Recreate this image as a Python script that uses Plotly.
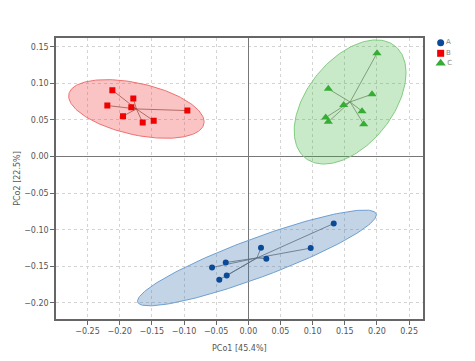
import numpy as np
import plotly.graph_objects as go

groups = ["A", "B", "C"]
pc1_A = [-0.0564, -0.0351, -0.0451, -0.0336, 0.0197, 0.0280, 0.0970, 0.1328]
pc2_A = [-0.1516, -0.1448, -0.1684, -0.1626, -0.1247, -0.1398, -0.1251, -0.0915]
pc1_B = [-0.2114, -0.1788, -0.2192, -0.1819, -0.1948, -0.1642, -0.1471, -0.0948]
pc2_B = [0.0907, 0.0792, 0.0697, 0.0675, 0.0552, 0.0464, 0.0488, 0.0628]
pc1_C = [0.2001, 0.1244, 0.1923, 0.1483, 0.1768, 0.1203, 0.1244, 0.1794]
pc2_C = [0.1413, 0.0925, 0.0852, 0.0706, 0.0620, 0.0533, 0.0474, 0.0443]
x_ticks = [-0.25, -0.20, -0.15, -0.10, -0.05, 0.00, 0.05, 0.10, 0.15, 0.20, 0.25]
y_ticks = [-0.20, -0.15, -0.10, -0.05, 0.00, 0.05, 0.10, 0.15]
x_title = "PCo1 [45.4%]"
y_title = "PCo2 [22.5%]"

data = {"A": (pc1_A, pc2_A), "B": (pc1_B, pc2_B), "C": (pc1_C, pc2_C)}
marker_col = {"A": "#0b4a98", "B": "#f00000", "C": "#35ad35"}
fill_col = {"A": "rgba(70,120,180,0.32)", "B": "rgba(240,60,60,0.30)", "C": "rgba(60,180,60,0.28)"}
edge_col = {"A": "#6d9fd0", "B": "#f07070", "C": "#80cc80"}
seg_col = {"A": "rgba(90,110,130,0.8)", "B": "rgba(150,70,60,0.7)", "C": "rgba(110,140,100,0.8)"}
symbols = {"A": "circle", "B": "square", "C": "triangle-up"}
sizes = {"A": 6, "B": 6, "C": 8}
K = 2.65

fig = go.Figure()

for g in groups:
    x, y = np.array(data[g][0]), np.array(data[g][1])
    cx, cy = x.mean(), y.mean()
    cov = np.cov(x, y)
    vals, vecs = np.linalg.eigh(cov)
    t = np.linspace(0, 2 * np.pi, 200)
    circ = np.vstack([np.cos(t), np.sin(t)])
    pts = vecs @ (np.sqrt(vals)[:, None] * circ) * K
    fig.add_trace(go.Scatter(x=cx + pts[0], y=cy + pts[1], mode="lines", fill="toself",
                             fillcolor=fill_col[g], line=dict(color=edge_col[g], width=1),
                             hoverinfo="skip", showlegend=False))

for g in groups:
    x, y = data[g]
    cx, cy = np.mean(x), np.mean(y)
    sx, sy = [], []
    for xi, yi in zip(x, y):
        sx += [cx, xi, None]
        sy += [cy, yi, None]
    fig.add_trace(go.Scatter(x=sx, y=sy, mode="lines", line=dict(color=seg_col[g], width=1),
                             hoverinfo="skip", showlegend=False))

for g in groups:
    x, y = data[g]
    fig.add_trace(go.Scatter(x=x, y=y, mode="markers", name=g,
                             marker=dict(symbol=symbols[g], size=sizes[g], color=marker_col[g]),
                             showlegend=False))

# legend drawn on a side axis
leg_y = [4.7, 15.3, 25.3]
for i, g in enumerate(groups):
    fig.add_trace(go.Scatter(x=[18], y=[leg_y[i]], mode="markers+text", text=[g],
                             textposition="middle right", textfont=dict(size=7, color="#888"),
                             marker=dict(symbol=symbols[g], size=sizes[g] + 1, color=marker_col[g]),
                             xaxis="x2", yaxis="y2", showlegend=False, cliponaxis=False, hoverinfo="skip"))

axis_common = dict(showline=True, linecolor="#666", linewidth=1.5, mirror=True,
                   ticks="outside", ticklen=4, tickcolor="#666",
                   showgrid=True, gridcolor="#d4d4d4", griddash="3px,3px", gridwidth=1,
                   zeroline=True, zerolinecolor="#777", zerolinewidth=1.3,
                   tickfont=dict(size=8, color="#555"), tickformat=".2f")

fig.update_layout(
    width=475, height=361,
    margin=dict(l=56, r=0, t=38, b=42),
    plot_bgcolor="white", paper_bgcolor="white",
    font=dict(family="DejaVu Sans", size=8, color="#555"),
    xaxis=dict(range=[-0.299, 0.271], tickvals=x_ticks, domain=[0, 0.875],
               title=dict(text=x_title, font=dict(size=8, color="#555"), standoff=10), **axis_common),
    yaxis=dict(range=[-0.222, 0.162], tickvals=y_ticks,
               title=dict(text=y_title, font=dict(size=8, color="#555"), standoff=2), **axis_common),
    xaxis2=dict(domain=[0.875, 1], range=[0, 52.3], visible=False, anchor="y2"),
    yaxis2=dict(domain=[0, 1], range=[281, 0], visible=False, anchor="x2"),
)

fig.write_html("out.html", config={"displayModeBar": False},
               post_script="document.body.style.margin='0';")
